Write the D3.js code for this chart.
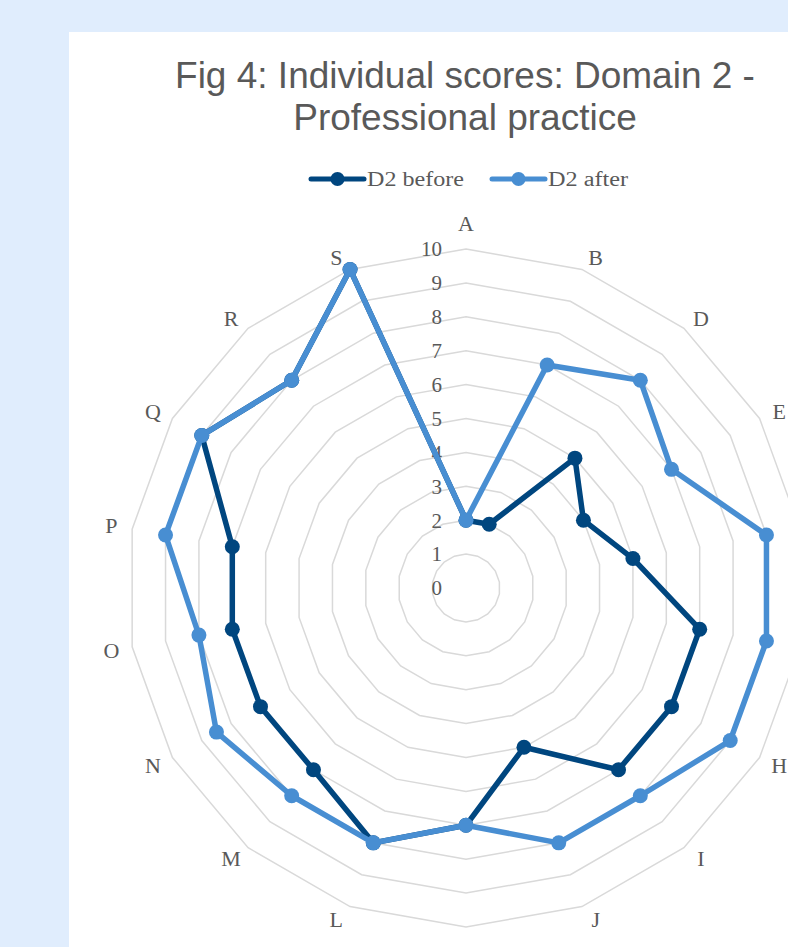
<!doctype html>
<html lang="en">
<head>
    <title>Fig 4</title>
    <script src="https://d3js.org/d3.v7.min.js"></script>
    <style type="text/css">
        body { margin: 0; background: #e0edfd; }
        svg { display: block; }
    </style>
</head>

<body>
</body>

<script type="text/javascript">

    var categories = ["A","B","D","E","F","G","H","I","J","K","L","M","N","O","P","Q","R","S"];
    var before     = [2, 2, 5, 4, 5, 7, 7, 7, 5, 7, 8, 7, 7,   7, 7, 9, 8, 10];
    var after      = [2, 7, 8, 7, 9, 9, 9, 8, 8, 7, 8, 8, 8.5, 8, 9, 9, 8, 10];
    var ticks      = [0,1,2,3,4,5,6,7,8,9,10];
    var seriesNames = ["D2 before", "D2 after"];

    var width  = 788;
    var height = 947;
    var cx = 466, cy = 588;
    var grey = "#595959";
    var colors = ["#00467f", "#488ed2"];

    var rScale = d3.scaleLinear().domain([0, 10]).range([0, 339]);
    var aScale = d3.scaleLinear().domain([0, categories.length]).range([0, 2 * Math.PI]);

    var svg = d3.select("body")
                .append("svg")
                .attr("width", width)
                .attr("height", height);

    svg.append("rect")
       .attr("width", width).attr("height", height)
       .style("fill", "#e0edfd");

    svg.append("rect")
       .attr("x", 69).attr("y", 32)
       .attr("width", width).attr("height", height)
       .style("fill", "#ffffff");

    // title
    var title = svg.append("text")
       .attr("text-anchor", "middle")
       .style("font-family", "'Liberation Sans', Arial, sans-serif")
       .style("font-size", "37px")
       .style("fill", grey);
    title.append("tspan").attr("x", 465).attr("y", 88).text("Fig 4: Individual scores: Domain 2 -");
    title.append("tspan").attr("x", 465).attr("y", 130).text("Professional practice");

    // legend
    var legendX = [311, 492];
    var legendW = [97, 80];
    seriesNames.forEach(function(name, i) {
        var g = svg.append("g").attr("transform", "translate(" + legendX[i] + ",179)");
        g.append("line")
         .attr("x1", 0).attr("x2", 53)
         .style("stroke", colors[i]).style("stroke-width", 5)
         .style("stroke-linecap", "round");
        g.append("circle").attr("cx", 26.5).attr("r", 7).style("fill", colors[i]);
        g.append("text")
         .attr("x", 56).attr("y", 7)
         .attr("textLength", legendW[i])
         .attr("lengthAdjust", "spacingAndGlyphs")
         .style("font-family", "'Liberation Serif', 'Times New Roman', serif")
         .style("font-size", "20px")
         .style("fill", grey)
         .text(name);
    });

    var chart = svg.append("g").attr("transform", "translate(" + cx + "," + cy + ")");

    // grid rings
    var ring = d3.lineRadial()
                 .angle(function(d, i) { return aScale(i); })
                 .radius(function(d) { return rScale(d); })
                 .curve(d3.curveLinearClosed);

    chart.selectAll(".ring")
         .data(ticks.slice(1))
         .enter()
         .append("path")
         .attr("class", "ring")
         .attr("d", function(t) { return ring(categories.map(function() { return t; })); })
         .style("fill", "none")
         .style("stroke", "#d9d9d9")
         .style("stroke-width", 1.5);

    // tick labels
    chart.selectAll(".tick")
         .data(ticks)
         .enter()
         .append("text")
         .attr("class", "tick")
         .attr("x", -24)
         .attr("y", function(t) { return -rScale(t); })
         .attr("dy", "0.35em")
         .attr("text-anchor", "end")
         .style("font-family", "'Liberation Serif', 'Times New Roman', serif")
         .style("font-size", "21px")
         .style("fill", grey)
         .text(function(t) { return t; });

    // category labels, pushed out a little past the outer ring
    function labelX(i) {
        var s = Math.sin(aScale(i));
        return 350 * s + (Math.abs(s) > 0.01 ? 10 * Math.sign(s) : 0);
    }
    function labelY(i) {
        var s = Math.sin(aScale(i)), c = Math.cos(aScale(i));
        return -350 * c - (Math.abs(s) < 0.01 ? 15 * Math.sign(c) : 2 * Math.sign(c));
    }

    chart.selectAll(".cat")
         .data(categories)
         .enter()
         .append("text")
         .attr("class", "cat")
         .attr("x", function(d, i) { return labelX(i); })
         .attr("y", function(d, i) { return labelY(i); })
         .attr("dy", "0.35em")
         .attr("text-anchor", "middle")
         .style("font-family", "'Liberation Serif', 'Times New Roman', serif")
         .style("font-size", "22px")
         .style("fill", grey)
         .text(function(d) { return d; });

    // series
    [before, after].forEach(function(vals, s) {
        chart.append("path")
             .attr("d", ring(vals))
             .style("fill", "none")
             .style("stroke", colors[s])
             .style("stroke-width", 5.5)
             .style("stroke-linejoin", "round");

        chart.selectAll(".dot" + s)
             .data(vals)
             .enter()
             .append("circle")
             .attr("class", "dot" + s)
             .attr("cx", function(d, i) { return Math.sin(aScale(i)) * rScale(d); })
             .attr("cy", function(d, i) { return -Math.cos(aScale(i)) * rScale(d); })
             .attr("r", 7.5)
             .style("fill", colors[s]);
    });

</script>

</html>
